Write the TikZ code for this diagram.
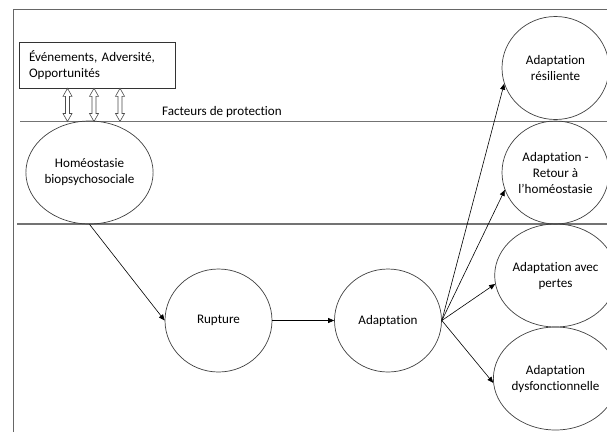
\documentclass[tikz,border=0pt]{standalone}
\usepackage{fontspec}
\setmainfont{Carlito}[Ligatures={NoCommon}]
\usepackage{tikz}
\usetikzlibrary{shapes.geometric, arrows.meta}

\begin{document}
\begin{tikzpicture}[x=1pt, y=-1pt, font=\fontsize{13.1}{16}\selectfont,
  etat/.style={ellipse, draw=black!75, line width=0.7pt, minimum width=107pt, minimum height=103pt, inner sep=0pt, align=center},
  bande/.style={draw=black!55, line width=1.1pt},
  fleche/.style={draw=black, line width=0.6pt, -{Triangle[length=6pt, width=5pt]}},
  echange/.style={draw=black!70, line width=0.6pt, fill=white}]
\useasboundingbox (0,0) rectangle (607,432);
\draw[black!60, line width=0.8pt] (13,432) -- (13,9) -- (607,9);
\draw[bande] (20,121.5) -- (607,121.5);
\draw[bande] (17,224) -- (607,224);
\node[draw=black!80, line width=0.7pt, minimum width=155.5pt, minimum height=46pt, text width=136.5pt, inner xsep=9.5pt, align=left] (evts) at (97.25,65.3) {Événements, Adversité,\\Opportunités};
\node[anchor=west, inner sep=0pt] (protect) at (162,112) {Facteurs de protection};
\foreach \x in {67.5,94,120}
  \draw[echange] (\x,88.3) -- ++(4.5,8) -- ++(-2.5,0) -- ++(0,17.2) -- ++(2.5,0) -- ++(-4.5,8) -- ++(-4.5,-8) -- ++(2.5,0) -- ++(0,-17.2) -- ++(-2.5,0) -- cycle;
\node[etat] (homeo) at (89.5,172.5) {Homéostasie\\biopsychosociale};
\node[etat] (rupture) at (218.5,320.5) {Rupture};
\node[etat] (adapt) at (388,320.5) {Adaptation};
\node[etat] (resil) at (555.5,68) {Adaptation\\résiliente};
\node[etat] (retour) at (555.5,172.5) {Adaptation -\\Retour à\\l’homéostasie};
\node[etat] (pertes) at (555.5,275.5) {Adaptation avec\\pertes};
\node[etat] (dysf) at (555.5,378.5) {Adaptation\\dysfonctionnelle};
\draw[fleche] (homeo.south) -- (rupture.west);
\draw[fleche] (rupture.east) -- (adapt.west);
\draw[fleche] (adapt.east) -- (resil.197);
\draw[fleche] (adapt.east) -- (retour.199);
\draw[fleche] (adapt.east) -- (pertes.188);
\draw[fleche] (adapt.east) -- (dysf.184);
\end{tikzpicture}
\end{document}
